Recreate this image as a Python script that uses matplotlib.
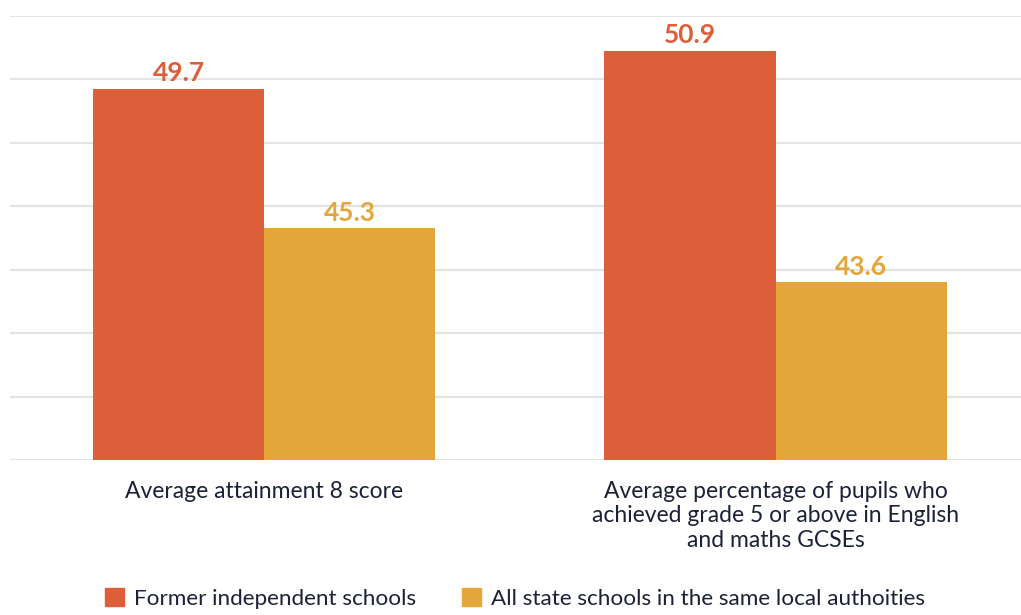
import numpy as np
import matplotlib.pyplot as plt
from matplotlib.patches import Patch

plt.rcParams['font.family'] = ['Lato', 'DejaVu Sans']

categories = ['Average attainment 8 score',
              'Average percentage of pupils who\nachieved grade 5 or above in English\nand maths GCSEs']
series_names = ['Former independent schools', 'All state schools in the same local authoities']
former = [49.7, 50.9]
state = [45.3, 43.6]
colors = ['#DC5F39', '#E4A63B']
text_col = '#1B2238'

fig = plt.figure(figsize=(10.21, 6.15), dpi=100)
ax = fig.add_axes([10/1021, 155/615, 1 - 10/1021, 444/615])

x = np.arange(len(categories))
w = 0.335
b1 = ax.bar(x - w/2, former, w, color=colors[0], zorder=3)
b2 = ax.bar(x + w/2, state, w, color=colors[1], zorder=3)

for bars, vals, c in [(b1, former, colors[0]), (b2, state, colors[1])]:
    for r, v in zip(bars, vals):
        ax.text(r.get_x() + r.get_width()/2, v + 0.12, f'{v}', ha='center', va='bottom',
                color=c, fontsize=19, fontweight='bold')

ax.set_ylim(38, 52)
ax.set_xlim(-0.497, 1.48)
ax.set_yticks(np.arange(38, 53, 2))
ax.yaxis.grid(True, color='#E3E3E3', linewidth=1.5, zorder=0)
ax.set_yticklabels([])
ax.tick_params(length=0)
for s in ax.spines.values():
    s.set_visible(False)
ax.set_xticks(x)
ax.set_xticklabels(categories, fontsize=16.5, color=text_col, linespacing=1.2)
ax.tick_params(axis='x', pad=15)

handles = [Patch(color=colors[0]), Patch(color=colors[1])]
fig.legend(handles, series_names, loc='lower left', bbox_to_anchor=(85/1021, -14/615),
           ncol=2, frameon=False, fontsize=16.2, handlelength=0.85, handleheight=0.85,
           handletextpad=0.45, columnspacing=2.0, labelcolor=text_col)

fig.savefig('out.png', dpi=100)
